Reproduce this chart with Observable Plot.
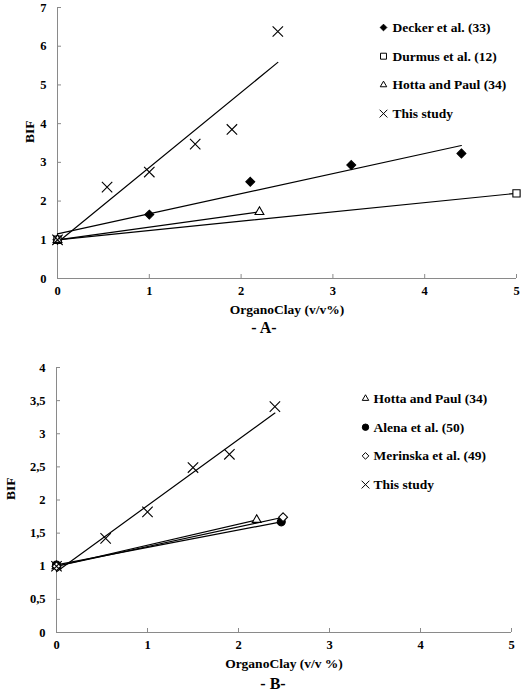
<!DOCTYPE html>
<html><head><meta charset="utf-8">
<script src="https://cdn.jsdelivr.net/npm/d3@7"></script>
<script src="https://cdn.jsdelivr.net/npm/@observablehq/plot@0.6"></script>
<style>
body{margin:0;background:#fff}
#chart svg{display:block}
</style></head><body><div id="chart"></div>
<script>
// ---------- Panel A data ----------
const deckerX = [0, 1, 2.1, 3.2, 4.4];
const deckerY = [1, 1.65, 2.5, 2.93, 3.23];
const durmusX = [0, 5];
const durmusY = [1, 2.2];
const hottaAX = [0, 2.2];
const hottaAY = [1, 1.72];
const studyAX = [0, 0.54, 1, 1.5, 1.9, 2.4];
const studyAY = [1, 2.36, 2.75, 3.47, 3.85, 6.38];
// ---------- Panel B data ----------
const hottaBX = [0, 2.2];
const hottaBY = [1, 1.7];
const alenaX = [0, 2.47];
const alenaY = [1.02, 1.67];
const merinskaX = [0, 2.49];
const merinskaY = [1, 1.74];
const studyBX = [0, 0.54, 1, 1.5, 1.9, 2.4];
const studyBY = [1, 1.42, 1.82, 2.49, 2.69, 3.41];
// ---------- labels / ticks ----------
const xTicks = [0, 1, 2, 3, 4, 5];
const yTicksA = [0, 1, 2, 3, 4, 5, 6, 7];
const yTicksB = [0, 0.5, 1, 1.5, 2, 2.5, 3, 3.5, 4];
const namesA = ["Decker et al. (33)", "Durmus et al. (12)", "Hotta and Paul (34)", "This study"];
const namesB = ["Hotta and Paul (34)", "Alena et al. (50)", "Merinska et al. (49)", "This study"];

const FONT = "'Liberation Serif', 'Times New Roman', serif";
const AXIS = "#8a8a8a";

// marker styles
const styleOf = {
  "Decker et al. (33)": {symbol: "diamond2", fill: "black", r: 4, lr: 3},
  "Durmus et al. (12)": {symbol: "square2", fill: "white", r: 4.6, lr: 3.8},
  "Hotta and Paul (34)": {symbol: "triangle2", fill: "white", r: 4.2, lr: 3.1},
  "This study": {symbol: "times", fill: "none", r: 4.8, lr: 3.6},
  "Alena et al. (50)": {symbol: "circle", fill: "black", r: 4, lr: 3.2},
  "Merinska et al. (49)": {symbol: "diamond2", fill: "white", r: 4, lr: 3}
};

function rows(name, xs, ys) { return xs.map((x, i) => ({series: name, x, y: ys[i]})); }

function panel({series, names, yTicks, yFmt, height, marginTop, marginBottom, marginLeft, marginRight,
                xLabel, letter, letterDx, letterDy, bifDx, legDx, legDy, legGap}) {
  const data = series.flatMap(([n, xs, ys]) => rows(n, xs, ys));
  const marks = [
    Plot.ruleX([0], {stroke: AXIS, strokeWidth: 1}),
    Plot.ruleY([0], {stroke: AXIS, strokeWidth: 1}),
    Plot.ruleX(xTicks.slice(1), {x: d => d, y1: 0, y2: 0, insetBottom: 4, stroke: AXIS}),
    Plot.ruleY(yTicks.slice(1), {y: d => d, x1: 0, x2: 0, insetRight: -4, stroke: AXIS}),
    Plot.axisX(xTicks, {tickSize: 0, tickPadding: 8, label: null, fontSize: 12.5}),
    Plot.axisY(yTicks, {tickSize: 0, tickPadding: 11, label: null, tickFormat: yFmt, fontSize: 12.5}),
    Plot.linearRegressionY(data, {x: "x", y: "y", z: "series", ci: 0, stroke: "black", strokeWidth: 1.2}),
    ...series.map(([n]) => {
      const s = styleOf[n];
      return Plot.dot(data.filter(d => d.series === n), {x: "x", y: "y", symbol: s.symbol, r: s.r,
        fill: s.fill, stroke: "black", strokeWidth: 1.1});
    }),
    Plot.text([xLabel], {frameAnchor: "bottom", lineAnchor: "middle", dy: 31, fontSize: 13.5}),
    Plot.text(["BIF"], {frameAnchor: "left", lineAnchor: "middle", dx: bifDx, rotate: -90, fontSize: 13.5}),
    Plot.text([letter], {frameAnchor: "bottom", lineAnchor: "middle", dx: letterDx, dy: letterDy, fontSize: 16}),
    ...names.flatMap((n, i) => {
      const s = styleOf[n];
      return [
        Plot.dot([n], {frameAnchor: "top-left", dx: legDx, dy: legDy + i * 28.7, symbol: s.symbol, r: s.lr,
          fill: s.fill, stroke: "black", strokeWidth: 1}),
        Plot.text([n], {frameAnchor: "top-left", lineAnchor: "middle", dx: legDx + legGap, dy: legDy + i * 28.7,
          textAnchor: "start", fontSize: 13.5})
      ];
    })
  ];
  return Plot.plot({
    width: 521, height, marginTop, marginBottom, marginLeft, marginRight,
    style: {fontFamily: FONT, fontWeight: "bold", fontSize: "13px", color: "black", background: "white"},
    x: {domain: [0, 5]},
    y: {domain: [yTicks[0], yTicks[yTicks.length - 1]]},
    marks
  });
}

const A = panel({
  series: [["Decker et al. (33)", deckerX, deckerY], ["Durmus et al. (12)", durmusX, durmusY],
           ["Hotta and Paul (34)", hottaAX, hottaAY], ["This study", studyAX, studyAY]],
  names: namesA, yTicks: yTicksA, yFmt: d => String(d),
  height: 340, marginTop: 7, marginBottom: 62, marginLeft: 57, marginRight: 5,
  xLabel: "OrganoClay (v/v%)", letter: "- A-", letterDx: -23, letterDy: 49, bifDx: -28,
  legDx: 326, legDy: 20, legGap: 9
});
const B = panel({
  series: [["Hotta and Paul (34)", hottaBX, hottaBY], ["Alena et al. (50)", alenaX, alenaY],
           ["Merinska et al. (49)", merinskaX, merinskaY], ["This study", studyBX, studyBY]],
  names: namesB, yTicks: yTicksB, yFmt: d => String(d).replace(".", ","),
  height: 357, marginTop: 27, marginBottom: 65, marginLeft: 56, marginRight: 10,
  xLabel: "OrganoClay (v/v %)", letter: "- B-", letterDx: -11, letterDy: 51, bifDx: -46,
  legDx: 309, legDy: 31, legGap: 8
});
document.getElementById("chart").append(A, B);
</script></body></html>
